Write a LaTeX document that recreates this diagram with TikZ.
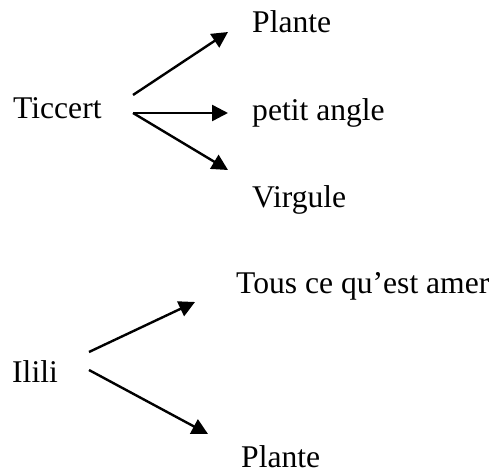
\documentclass[tikz,border=0pt]{standalone}
\usepackage{fontspec}
\setmainfont{Liberation Serif}
\usetikzlibrary{arrows.meta}
\begin{document}
\begin{tikzpicture}[x=1pt,y=-1pt,
  word/.style={anchor=base west,inner sep=0pt,font=\fontsize{31.6}{36}\selectfont},
  link/.style={line width=2.4pt,-{Triangle[length=16pt,width=16pt]}}]
\useasboundingbox (0,0) rectangle (494,473);
% first word and its three meanings
\node[word] (ticcert) at (13,119) {Ticcert};
\node[word] (plante1) at (252,33) {Plante};
\node[word] (petit) at (252,121) {petit angle};
\node[word] (virgule) at (252,207) {Virgule};
\coordinate (t1) at (133,95);
\coordinate (t2) at (133,113);
\coordinate (p1) at (228,32);
\coordinate (p2) at (228,113);
\coordinate (p3) at (228,170);
\draw[link] (t1) -- (p1);
\draw[link] (t2) -- (p2);
\draw[link] (t2) -- (p3);
% second word and its two meanings
\node[word] (ilili) at (12,382) {Ilili};
\node[word] (amer) at (236,293) {Tous ce qu’est amer};
\node[word] (plante2) at (241,467) {Plante};
\coordinate (i1) at (89,352);
\coordinate (i2) at (89,370);
\coordinate (q1) at (195,302);
\coordinate (q2) at (208,434);
\draw[link] (i1) -- (q1);
\draw[link] (i2) -- (q2);
\end{tikzpicture}
\end{document}
